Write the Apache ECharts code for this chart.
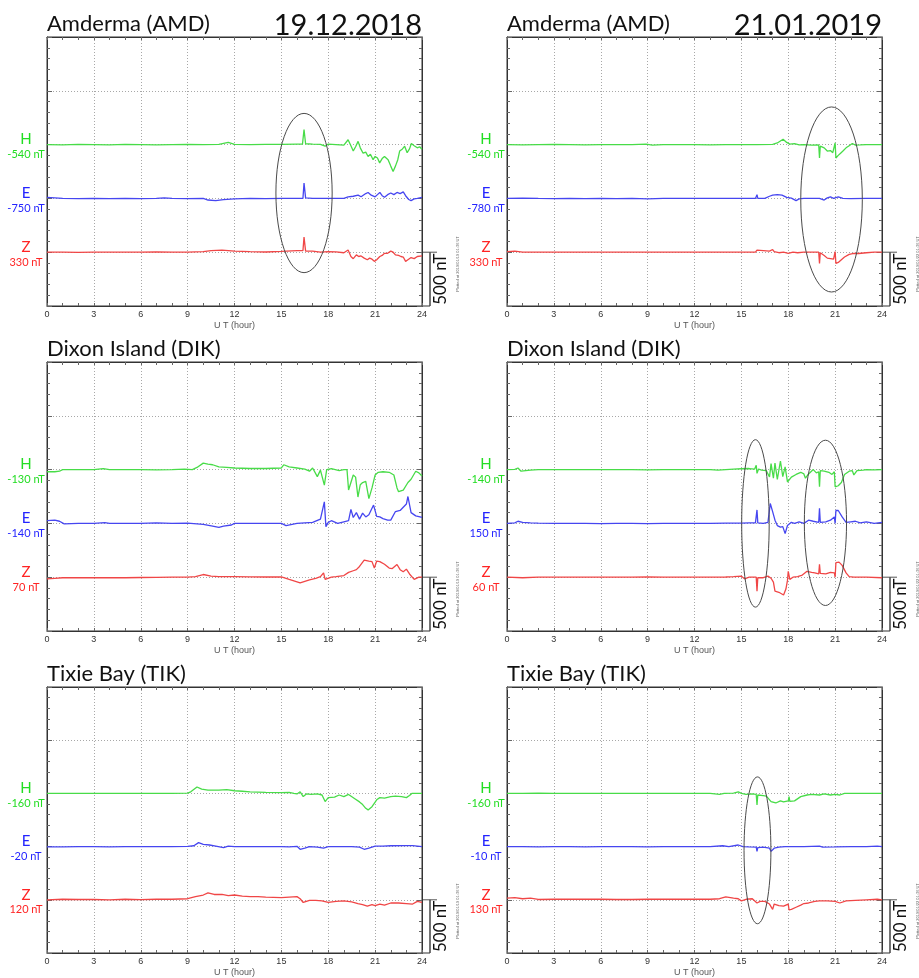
<!DOCTYPE html>
<html>
<head>
<meta charset="utf-8">
<title>Magnetograms AMD DIK TIK</title>
<script src="https://cdn.jsdelivr.net/npm/echarts@6/dist/echarts.min.js"></script>
<style>
html, body { margin: 0; padding: 0; background: #fff; }
#main { width: 919px; height: 978px; }
</style>
</head>
<body>
<div id="main"></div>
<script>
// x axis: UT hours
var hourMin = 0;
var hourMax = 24;
var hourStep = 3;
// y axis: nT, one division = 500 nT (scale bar)
var nTMin = 0;
var nTMax = 2500;
var nTStep = 500;
// trace baselines inside each panel
var offsetH = 1500;
var offsetE = 1000;
var offsetZ = 500;

// ---- Amderma 19.12.2018 : [hour, deviation nT] ----
var amdDecH = [[0,0],[1,-3],[2,2],[3,0],[4,-3],[5,2],[6,0],[7,-3],[8,0],[9,2],[10,0],[11,3],[11.6,20],[12,3],[13,0],[14,2],[15,3],[16,5],[16.35,5],[16.45,140],[16.55,8],[17,5],[17.5,3],[17.8,-15],[18,5],[18.5,0],[19,-5],[19.27,45],[19.45,-10],[19.6,-60],[19.75,-20],[19.91,30],[20.05,-30],[20.23,-80],[20.4,-70],[20.55,-110],[20.7,-90],[20.87,-140],[21.0,-110],[21.15,-125],[21.29,-170],[21.45,-130],[21.6,-110],[21.83,-140],[22.0,-200],[22.15,-250],[22.3,-200],[22.45,-140],[22.57,-60],[22.75,-40],[22.89,-15],[23.05,-75],[23.2,-40],[23.32,10],[23.5,-10],[23.7,-30],[23.85,-20],[24,-45]];
var amdDecE = [[0,10],[0.5,5],[1,0],[2,-3],[3,0],[4,-3],[5,0],[6,-2],[7,0],[7.5,5],[8,0],[9,-3],[10,0],[10.3,-15],[10.8,-20],[11.3,-12],[12,-5],[13,0],[14,-3],[15,0],[16,0],[16.38,0],[16.45,143],[16.55,5],[17,0],[18,0],[19,0],[19.27,15],[19.6,20],[19.91,30],[20.1,15],[20.4,45],[20.55,55],[20.75,30],[21.0,15],[21.15,35],[21.3,55],[21.45,25],[21.6,10],[21.8,35],[22.0,50],[22.2,35],[22.4,55],[22.6,45],[22.8,60],[22.95,25],[23.15,-10],[23.3,-20],[23.5,-5],[23.7,0],[24,10]];
var amdDecZ = [[0,0],[1,0],[2,-2],[3,0],[4,0],[5,0],[6,0],[7,2],[8,0],[9,0],[10,5],[10.5,15],[11.2,20],[12,10],[13,5],[14,2],[15,8],[16,15],[16.38,15],[16.45,140],[16.55,10],[17,10],[17.5,0],[18,5],[18.5,3],[19,-5],[19.27,20],[19.45,-40],[19.6,-60],[19.8,-25],[19.95,-40],[20.1,-35],[20.3,-55],[20.5,-70],[20.65,-55],[20.8,-65],[20.95,-85],[21.1,-70],[21.3,-40],[21.45,-30],[21.6,-10],[21.8,-10],[22.0,10],[22.15,0],[22.3,-25],[22.5,-30],[22.65,-40],[22.8,-45],[22.95,-85],[23.1,-70],[23.3,-50],[23.5,-60],[23.7,-40],[24,-35]];

// ---- Amderma 21.01.2019 ----
var amdJanH = [[0,0],[1,-2],[2,0],[3,2],[4,0],[5,-2],[6,0],[7,0],[8,0],[8.9,5],[9.3,-5],[10,0],[11,0],[12,0],[13,-2],[14,0],[15,0],[16,0],[17,3],[17.3,15],[17.67,50],[17.9,20],[18.1,5],[18.4,10],[18.7,-3],[19,0],[19.5,-5],[19.95,-3],[20.0,-125],[20.05,-15],[20.3,-30],[20.5,-60],[20.7,-55],[20.85,-75],[20.95,-60],[21.0,15],[21.05,-125],[21.2,-100],[21.35,-80],[21.5,-60],[21.7,-30],[21.9,-10],[22.1,10],[22.3,-5],[22.6,-3],[23,0],[24,0]];
var amdJanE = [[0,0],[1,3],[2,0],[3,-2],[4,0],[5,-3],[6,0],[7,-2],[8,0],[9,-5],[10,0],[11,0],[12,0],[13,0],[14,0],[15,0],[15.9,0],[16.0,35],[16.05,0],[16.5,0],[16.8,20],[17.0,30],[17.3,35],[17.6,30],[17.9,10],[18.2,3],[18.5,-20],[18.7,-5],[19,0],[19.5,0],[20,0],[20.3,-15],[20.5,5],[20.7,15],[20.9,0],[21.2,15],[21.5,0],[22,-3],[23,0],[24,0]];
var amdJanZ = [[0,5],[0.5,10],[1,0],[2,0],[3,0],[4,0],[5,0],[6,0],[7,0],[8,0],[9,0],[10,0],[11,0],[12,0],[13,0],[14,0],[15,0],[15.9,0],[16.0,20],[16.1,2],[16.8,10],[17.0,25],[17.1,5],[17.4,-5],[17.7,0],[18.0,-10],[18.3,0],[18.6,-5],[19,0],[19.5,0],[19.95,0],[20.0,-105],[20.05,-5],[20.3,-30],[20.5,-55],[20.7,-60],[20.9,-65],[21.0,5],[21.05,-105],[21.2,-95],[21.4,-70],[21.6,-45],[21.9,-20],[22.2,-10],[22.5,-12],[23,-5],[23.5,0],[24,0]];

// ---- Dixon Island 19.12.2018 ----
var dikDecH = [[0,-20],[0.5,-20],[0.8,-15],[1.0,0],[2,0],[3,0],[3.6,10],[4,0],[5,0],[6,0],[7,-3],[8,0],[8.8,5],[9.3,0],[9.6,20],[10.0,60],[10.3,50],[10.6,45],[11,25],[11.5,20],[12,15],[13,10],[14,10],[15,15],[15.15,45],[15.5,25],[16,15],[16.5,5],[16.8,-15],[17.0,15],[17.3,-65],[17.5,-5],[17.75,-145],[17.9,0],[18.2,10],[18.7,-10],[19.0,0],[19.2,0],[19.3,-190],[19.45,-120],[19.6,-50],[19.75,-70],[19.9,-255],[20.05,-140],[20.2,-120],[20.4,-110],[20.6,-270],[20.8,-170],[21.0,-50],[21.2,-25],[21.5,-20],[21.9,-25],[22.2,-50],[22.4,-170],[22.5,-205],[22.8,-190],[23.1,-120],[23.3,-90],[23.6,-15],[23.8,-30],[24,-60]];
var dikDecE = [[0,25],[0.5,30],[0.8,20],[1.1,-5],[2,0],[3,0],[3.7,8],[4,0],[5,0],[6,0],[7,5],[8,0],[9,2],[10,-10],[10.6,-25],[11,-37],[11.3,-25],[11.8,-15],[12,0],[13,0],[14,0],[15,0],[15.3,-20],[16,0],[16.5,5],[17.0,10],[17.5,40],[17.75,200],[17.85,-30],[18.0,10],[18.2,25],[18.6,0],[19.0,15],[19.3,25],[19.45,130],[19.6,55],[19.8,100],[20.0,40],[20.2,95],[20.4,60],[20.6,80],[20.8,140],[20.9,170],[21.1,65],[21.3,60],[21.5,45],[21.8,30],[22.0,30],[22.3,110],[22.6,120],[22.8,150],[23.0,180],[23.1,250],[23.3,100],[23.6,70],[24,55]];
var dikDecZ = [[0,-15],[0.5,-10],[1,-5],[2,-5],[3,-5],[4,-5],[5,-5],[6,-3],[7,-2],[8,0],[9,0],[9.5,5],[10,25],[10.5,10],[11,5],[12,5],[13,3],[14,2],[15,3],[15.5,-20],[16.2,-52],[16.8,-25],[17.2,-10],[17.5,5],[17.7,40],[17.8,-20],[18.2,0],[18.5,5],[19.0,15],[19.3,45],[19.6,60],[19.8,70],[20.0,100],[20.3,158],[20.6,150],[20.8,145],[20.95,85],[21.1,150],[21.3,145],[21.6,120],[21.9,85],[22.1,80],[22.4,118],[22.6,70],[22.8,50],[23.0,75],[23.2,30],[23.5,-20],[23.8,0],[24,0]];

// ---- Dixon Island 21.01.2019 ----
var dikJanH = [[0,0],[0.5,3],[0.7,15],[0.9,-15],[1.5,-5],[2,0],[3,0],[4,0],[5,0],[6,0],[7,0],[8,0],[9,-3],[10,0],[11,0],[12,0],[13,0],[13.5,-5],[14,0],[14.5,5],[15,8],[15.5,10],[15.85,5],[15.95,40],[16.0,-35],[16.1,5],[16.3,-5],[16.6,-10],[16.8,-68],[16.9,55],[17.05,-80],[17.15,60],[17.3,-90],[17.5,80],[17.65,-65],[17.8,25],[17.95,-115],[18.2,-70],[18.5,-45],[18.8,-25],[19.0,-40],[19.1,-80],[19.3,-40],[19.6,0],[19.8,-30],[19.95,-20],[20.0,-160],[20.05,-10],[20.3,-15],[20.6,-25],[20.8,-45],[20.95,-20],[21.0,-160],[21.2,-150],[21.4,-120],[21.6,-45],[21.9,-15],[22.1,-10],[22.2,-50],[22.4,-10],[22.8,-5],[23,0],[23.5,-3],[24,0]];
var dikJanE = [[0,0],[0.5,5],[0.7,20],[1.0,10],[1.5,5],[2,3],[3,0],[4,0],[5,0],[6,-3],[7,0],[8,0],[9,-3],[10,0],[11,0],[12,0],[13,0],[14,3],[15,3],[15.5,5],[15.9,5],[16.0,125],[16.05,5],[16.4,0],[16.7,10],[16.85,185],[17.0,110],[17.15,30],[17.3,-20],[17.5,-35],[17.65,-30],[17.8,-95],[17.95,-20],[18.2,10],[18.4,0],[18.7,15],[19.0,0],[19.3,30],[19.6,20],[19.95,10],[20.0,140],[20.05,10],[20.4,15],[20.7,30],[20.95,60],[21.0,0],[21.05,120],[21.2,120],[21.45,60],[21.7,10],[22.0,15],[22.3,20],[22.6,5],[23.0,15],[23.5,0],[24,10]];
var dikJanZ = [[0,0],[1,-5],[2,0],[3,0],[4,0],[5,0],[6,0],[7,0],[8,0],[9,2],[10,0],[11,0],[12,0],[13,0],[14,2],[14.5,5],[15,10],[15.2,-15],[15.5,0],[15.95,0],[16.0,-130],[16.05,-5],[16.4,-5],[16.7,10],[16.9,-10],[17.05,-45],[17.15,-130],[17.4,-140],[17.7,-165],[17.85,-110],[17.95,-30],[18.0,55],[18.1,-20],[18.3,0],[18.6,5],[18.9,20],[19.2,55],[19.5,45],[19.7,40],[19.95,30],[20.0,120],[20.05,35],[20.4,30],[20.7,45],[20.95,40],[21.0,0],[21.05,135],[21.25,140],[21.45,110],[21.7,40],[21.9,5],[22.2,0],[23,0],[24,-5]];

// ---- Tixie Bay 19.12.2018 ----
var tikDecH = [[0,0],[1,0],[2,0],[3,0],[4,0],[5,0],[6,0],[7,0],[8,0],[9,2],[9.2,15],[9.6,60],[9.9,40],[10.3,30],[11,30],[11.5,35],[12,25],[12.5,20],[13,15],[14,10],[15,8],[15.5,10],[15.8,0],[16,-5],[16.2,15],[16.4,-30],[16.6,-5],[16.9,-10],[17.3,-5],[17.6,-15],[17.8,-77],[18,-40],[18.4,-35],[18.7,-15],[19,-30],[19.3,-10],[19.7,-50],[20.0,-80],[20.2,-105],[20.4,-140],[20.55,-155],[20.8,-125],[21.1,-60],[21.3,-40],[21.6,-45],[22.0,-30],[22.3,-25],[22.7,-30],[23.0,-40],[23.2,-20],[23.35,0],[23.7,0],[24,0]];
var tikDecE = [[0,-3],[1,-3],[2,0],[3,0],[4,-3],[5,0],[6,0],[7,0],[8,0],[9,2],[9.4,8],[9.7,37],[10.0,20],[10.4,15],[10.8,5],[11.3,-10],[11.6,5],[12,0],[13,0],[14,0],[15,0],[15.5,-3],[16.0,3],[16.2,-25],[16.5,-15],[16.8,0],[17.3,-5],[17.7,-15],[18,0],[19,0],[19.5,0],[20.0,-5],[20.3,-25],[20.6,-15],[21.0,5],[21.5,5],[22,8],[23,10],[23.4,10],[24,0]];
var tikDecZ = [[0,0],[1,5],[2,3],[3,3],[4,0],[5,5],[6,2],[7,5],[8,5],[9,10],[9.5,30],[10.0,45],[10.3,65],[10.7,50],[11.2,50],[11.6,40],[12,45],[12.5,35],[13,30],[13.5,30],[14,25],[15,20],[15.5,25],[16.0,30],[16.2,10],[16.4,-25],[16.8,-5],[17.2,-5],[17.6,-10],[18,-25],[18.5,-15],[19,-10],[19.5,-20],[19.9,-35],[20.2,-45],[20.5,-60],[20.8,-45],[21.0,-55],[21.3,-40],[21.6,-50],[22.0,-30],[22.5,-30],[23.0,-35],[23.4,-40],[23.7,-15],[24,-25]];

// ---- Tixie Bay 21.01.2019 ----
var tikJanH = [[0,0],[1,0],[2,2],[3,0],[4,0],[5,0],[6,0],[7,0],[8,0],[9,0],[10,0],[11,0],[12,0],[13,0],[13.6,-10],[13.9,0],[14.5,2],[14.8,15],[15.0,0],[15.3,-10],[15.7,-5],[15.95,-10],[16.0,-108],[16.05,-15],[16.4,-20],[16.6,-25],[16.9,-77],[17.2,-90],[17.5,-70],[17.7,-80],[18.0,-70],[18.05,-30],[18.1,-75],[18.4,-70],[18.8,-30],[19.2,-15],[19.5,-10],[20.0,-15],[20.3,-5],[20.7,-15],[21.0,-10],[21.3,-15],[21.6,0],[22,0],[23,0],[24,0]];
var tikJanE = [[0,0],[1,0],[2,-2],[3,0],[4,0],[5,-2],[6,0],[7,0],[8,0],[9,-3],[10,0],[11,0],[12,0],[13,0],[13.8,8],[14.2,0],[14.8,15],[15.1,0],[15.5,-3],[15.95,-5],[16.0,-45],[16.05,-10],[16.4,-5],[16.8,-15],[16.9,-45],[17.1,-15],[17.4,-5],[17.8,0],[18.5,0],[19,0],[20.0,5],[20.2,-5],[21,-3],[22,0],[23,0],[23.7,5],[24,0]];
var tikJanZ = [[0,15],[0.5,20],[1,10],[1.5,15],[2,3],[3,5],[4,5],[5,5],[6,5],[7,3],[8,3],[9,5],[10,5],[11,5],[12,5],[13,5],[13.6,10],[14.0,28],[14.5,15],[14.8,10],[15.0,-10],[15.3,5],[15.7,10],[16.0,-30],[16.2,-15],[16.5,-15],[16.8,-40],[17.0,-90],[17.1,-40],[17.4,-55],[17.7,-60],[18.0,-40],[18.05,-95],[18.2,-90],[18.5,-70],[18.8,-50],[19.0,-35],[19.3,-30],[19.7,-15],[20,-10],[20.5,-10],[21,-15],[21.3,-30],[21.7,-10],[22.3,-5],[23,0],[23.7,5],[24,0]];

// baseline value labels (H, E, Z)
var amdDecBase = ['-540 nT', '-750 nT', '330 nT'];
var amdJanBase = ['-540 nT', '-780 nT', '330 nT'];
var dikDecBase = ['-130 nT', '-140 nT', '70 nT'];
var dikJanBase = ['-140 nT', '150 nT', '60 nT'];
var tikDecBase = ['-160 nT', '-20 nT', '120 nT'];
var tikJanBase = ['-160 nT', '-10 nT', '130 nT'];

// highlighted intervals: [centre hour, centre nT, half width h, half height nT]
var amdDecRings = [[16.45, 1050, 1.8, 740]];
var amdJanRings = [[20.77, 990, 1.97, 860]];
var dikJanRings = [[15.9, 1000, 0.88, 778], [20.38, 1005, 1.35, 768]];
var tikJanRings = [[16.03, 965, 0.86, 690]];

var panels = [
	{ station: 'Amderma (AMD)', date: '19.12.2018', h: amdDecH, e: amdDecE, z: amdDecZ, base: amdDecBase, rings: amdDecRings, stamp: 'Plotted at 2019/01/19 01:36 UT' },
	{ station: 'Amderma (AMD)', date: '21.01.2019', h: amdJanH, e: amdJanE, z: amdJanZ, base: amdJanBase, rings: amdJanRings, stamp: 'Plotted at 2019/01/22 01:36 UT' },
	{ station: 'Dixon Island (DIK)', date: '', h: dikDecH, e: dikDecE, z: dikDecZ, base: dikDecBase, rings: [], stamp: 'Plotted at 2019/01/19 01:36 UT' },
	{ station: 'Dixon Island (DIK)', date: '', h: dikJanH, e: dikJanE, z: dikJanZ, base: dikJanBase, rings: dikJanRings, stamp: 'Plotted at 2019/01/22 01:36 UT' },
	{ station: 'Tixie Bay (TIK)', date: '', h: tikDecH, e: tikDecE, z: tikDecZ, base: tikDecBase, rings: [], stamp: 'Plotted at 2019/01/19 01:36 UT' },
	{ station: 'Tixie Bay (TIK)', date: '', h: tikJanH, e: tikJanE, z: tikJanZ, base: tikJanBase, rings: tikJanRings, stamp: 'Plotted at 2019/01/22 01:36 UT' }
];

// layout
var colLeft = [47, 507];
var rowTop = [37, 362, 687];
var plotW = 375;
var plotH = 269;

var channels = [
	{ key: 'h', name: 'H', offset: offsetH, text: '#22dd22', line: '#48dc48' },
	{ key: 'e', name: 'E', offset: offsetE, text: '#2424ff', line: '#4646f0' },
	{ key: 'z', name: 'Z', offset: offsetZ, text: '#ff2424', line: '#f04646' }
];

var lift = function(points, offset) {
	return points.map(function(p) {
		return [p[0], p[1] + offset];
	});
};

var tickColor = '#666';
var frameColor = '#333';
var gridLine = { show: true, lineStyle: { color: '#a8a8a8', width: 1, type: [1, 2] } };

var renderRing = function(params, api) {
	var c = api.coord([api.value(0), api.value(1)]);
	var e = api.coord([api.value(0) + api.value(2), api.value(1) + api.value(3)]);
	return {
		type: 'ellipse',
		shape: { cx: c[0], cy: c[1], rx: e[0] - c[0], ry: c[1] - e[1] },
		style: { fill: null, stroke: '#4a4a4a', lineWidth: 1 },
		silent: true
	};
};

var buildOption = function() {
	var grids = [], xAxes = [], yAxes = [], series = [];
	panels.forEach(function(p, i) {
		grids.push({
			left: colLeft[i % 2], top: rowTop[Math.floor(i / 2)], width: plotW, height: plotH,
			show: true, borderColor: frameColor, borderWidth: 1, backgroundColor: 'transparent'
		});
		//bottom x axis with labels
		xAxes.push({
			type: 'value', gridIndex: i, min: hourMin, max: hourMax, interval: hourStep, position: 'bottom',
			axisLine: { show: true, onZero: false, lineStyle: { color: frameColor } },
			axisTick: { show: true, inside: true, length: 3, lineStyle: { color: tickColor } },
			minorTick: { show: true, splitNumber: 3, length: 3, lineStyle: { color: tickColor } },
			axisLabel: { fontSize: 9, color: '#333', margin: 4, fontFamily: 'Liberation Sans' },
			splitLine: gridLine,
			name: 'U T (hour)', nameLocation: 'middle', nameGap: 15,
			nameTextStyle: { fontSize: 9, color: '#555', fontFamily: 'Liberation Sans' }
		});
		//top x axis, ticks only
		xAxes.push({
			type: 'value', gridIndex: i, min: hourMin, max: hourMax, interval: hourStep, position: 'top',
			axisLine: { show: true, onZero: false, lineStyle: { color: frameColor } },
			axisTick: { show: true, inside: true, length: 3, lineStyle: { color: tickColor } },
			minorTick: { show: true, splitNumber: 3, length: 3, lineStyle: { color: tickColor } },
			axisLabel: { show: false }, splitLine: { show: false }
		});
		yAxes.push({
			type: 'value', gridIndex: i, min: nTMin, max: nTMax, interval: nTStep, position: 'left',
			axisLine: { show: true, onZero: false, lineStyle: { color: frameColor } },
			axisTick: { show: true, inside: true, length: 5, lineStyle: { color: tickColor } },
			minorTick: { show: true, splitNumber: 5, length: 3, lineStyle: { color: tickColor } },
			axisLabel: { show: false }, splitLine: gridLine
		});
		yAxes.push({
			type: 'value', gridIndex: i, min: nTMin, max: nTMax, interval: nTStep, position: 'right',
			axisLine: { show: true, onZero: false, lineStyle: { color: frameColor } },
			axisTick: { show: true, inside: true, length: 5, lineStyle: { color: tickColor } },
			minorTick: { show: true, splitNumber: 5, length: 3, lineStyle: { color: tickColor } },
			axisLabel: { show: false }, splitLine: { show: false }
		});
		channels.forEach(function(c) {
			series.push({
				name: p.station + ' ' + c.name, type: 'line', xAxisIndex: 2 * i, yAxisIndex: 2 * i,
				data: lift(p[c.key], c.offset), symbol: 'none', smooth: false,
				lineStyle: { color: c.line, width: 1.3 }, silent: true, animation: false
			});
		});
		if(p.rings.length > 0) {
			series.push({
				type: 'custom', xAxisIndex: 2 * i, yAxisIndex: 2 * i, data: p.rings,
				renderItem: renderRing, clip: false, silent: true, animation: false, z: 5
			});
		}
	});
	return { animation: false, backgroundColor: '#fff', grid: grids, xAxis: xAxes, yAxis: yAxes, series: series };
};

var chart = echarts.init(document.getElementById('main'));
chart.setOption(buildOption());

//titles, channel labels and 500 nT scale bars, placed from the axes
var buildGraphic = function() {
	var els = [];
	panels.forEach(function(p, i) {
		var finder = { xAxisIndex: 2 * i, yAxisIndex: 2 * i };
		var topLeft = chart.convertToPixel(finder, [hourMin, nTMax]);
		var right = chart.convertToPixel(finder, [hourMax, nTMin]);
		var bar = chart.convertToPixel(finder, [hourMax, nTMin + nTStep]);
		els.push({
			type: 'text', x: topLeft[0], y: topLeft[1] - 13,
			style: { text: p.station, font: '22px Lato', fill: '#111', align: 'left', verticalAlign: 'middle' }
		});
		if(p.date) {
			els.push({
				type: 'text', x: right[0], y: topLeft[1] - 11,
				style: { text: p.date, font: '29px Lato', fill: '#111', align: 'right', verticalAlign: 'middle' }
			});
		}
		channels.forEach(function(c, k) {
			var pt = chart.convertToPixel(finder, [hourMin, c.offset]);
			els.push({
				type: 'text', x: pt[0] - 21, y: pt[1] - 5,
				style: { text: c.name, font: '15px Lato', fill: c.text, align: 'center', verticalAlign: 'middle' }
			});
			els.push({
				type: 'text', x: pt[0] - 21, y: pt[1] + 10,
				style: { text: p.base[k], font: '11px Lato', fill: c.text, align: 'center', verticalAlign: 'middle' }
			});
		});
		//scale bar
		els.push({ type: 'line', shape: { x1: bar[0], y1: bar[1], x2: bar[0] + 15, y2: bar[1] }, style: { stroke: '#555', lineWidth: 1 } });
		els.push({ type: 'line', shape: { x1: right[0], y1: right[1], x2: right[0] + 8, y2: right[1] }, style: { stroke: frameColor, lineWidth: 1 } });
		els.push({ type: 'line', shape: { x1: bar[0] + 8, y1: bar[1], x2: bar[0] + 8, y2: right[1] }, style: { stroke: '#444', lineWidth: 1.5 } });
		els.push({
			type: 'text', x: right[0] + 19, y: (bar[1] + right[1]) / 2, rotation: Math.PI / 2,
			style: { text: '500 nT', font: '17px Lato', fill: '#111', align: 'center', verticalAlign: 'middle' }
		});
		els.push({
			type: 'text', x: right[0] + 36, y: right[1] - 42, rotation: Math.PI / 2,
			style: { text: p.stamp, font: '4px Liberation Sans', fill: '#666', align: 'center', verticalAlign: 'middle' }
		});
	});
	return els;
};
chart.setOption({ graphic: buildGraphic() });
</script>
</body>
</html>
